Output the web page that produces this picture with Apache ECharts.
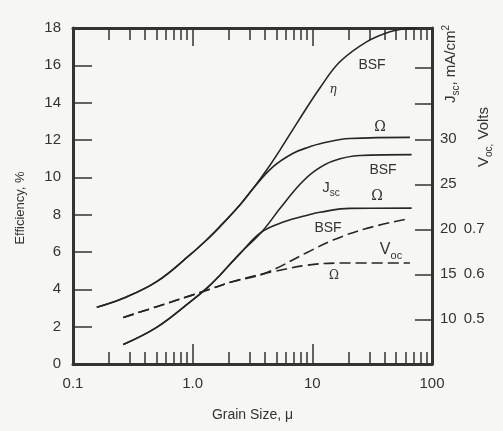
<!DOCTYPE html>
<html><head><meta charset="utf-8">
<script src="https://cdn.jsdelivr.net/npm/echarts@6/dist/echarts.min.js"></script>
<style>html,body{margin:0;padding:0;background:#f6f6f3;}#c{width:503px;height:431px;}</style>
</head><body><div id="c"></div>
<script>
// ---- data ----
// efficiency (%), shared low-grain part then the two branches
var etaLowGrain = [0.158, 0.263, 0.50, 0.948, 1.35, 1.69, 2.48, 3.21];
var etaLow      = [3.04, 3.52, 4.41, 5.84, 6.73, 7.36, 8.52, 9.41];
var etaBSFGrain = [4.15, 5.36, 7.6, 11.6, 17.0, 28.4, 44.5, 61.4, 75];
var etaBSF      = [10.39, 11.46, 13.0, 14.8, 16.19, 17.26, 17.8, 17.97, 18.0];
var etaOhmGrain = [4.71, 6.92, 9.55, 11.6, 20.6, 65.4];
var etaOhm      = [10.57, 11.29, 11.64, 11.8, 12.08, 12.14];

// short-circuit current (mA/cm2)
var jscLowGrain = [0.263, 0.50, 0.948, 1.35, 1.69, 2.48, 3.77];
var jscLow      = [7.2, 9.1, 11.9, 13.6, 14.9, 17.3, 19.7];
var jscBSFGrain = [5.36, 7.88, 10.5, 14.9, 25, 67.6];
var jscBSF      = [22.3, 25.0, 26.5, 27.6, 28.2, 28.3];
var jscOhmGrain = [5.71, 9.55, 11.6, 20.6, 67.6];
var jscOhm      = [20.8, 21.65, 21.9, 22.33, 22.35];

// open-circuit voltage (V)
var vocLowGrain = [0.263, 0.50, 0.948, 1.40, 2.18, 4.0];
var vocLow      = [0.504, 0.528, 0.552, 0.567, 0.584, 0.602];
var vocBSFGrain = [8.96, 14.9, 28.4, 65.4];
var vocBSF      = [0.648, 0.676, 0.702, 0.724];
var vocOhmGrain = [4.71, 8.96, 17.0, 65.4];
var vocOhm      = [0.606, 0.62, 0.625, 0.625];

// ---- axis ticks / labels ----
var xLabelValues = [0.1, 1, 10, 100];
var xLabelTexts  = ['0.1', '1.0', '10', '100'];
var xMinorTicks  = [0.2,0.3,0.4,0.5,0.6,0.7,0.8,0.9, 2,3,4,5,6,7,8,9, 20,30,40,50,60,70,80,90];
var xMajorTicks  = [1, 10];
var jscTickValues = [10, 15, 20, 25, 30, 34, 37.9];
var jscLabelValues = [10, 15, 20, 25, 30];
var vocLabelTexts  = ['0.5', '0.6', '0.7', '', ''];

function pairs(xs, ys){ return xs.map(function(x,i){ return [x, ys[i]]; }); }
function branch(lx, ly, bx, by){ return pairs(lx, ly).concat(pairs(bx, by)); }

var INK = '#262626';
var FONT = 'Liberation Sans';
var frame = {show:true, lineStyle:{color:'#333', width:3}};

function xAx(pos, ticks, len, showLine, labels){
  return {
    type:'log', logBase:10, min:0.1, max:100, position:pos, gridIndex:0,
    axisLine: showLine ? frame : {show:false},
    axisTick:{show:true, inside:true, length:len, customValues:ticks, lineStyle:{color:'#333', width:1.5}},
    axisLabel: labels ? {show:true, customValues:xLabelValues, margin:12, fontSize:15, color:'#333', fontFamily:FONT,
      formatter:function(v){ var i = xLabelValues.indexOf(v); return i>=0 ? xLabelTexts[i] : ''; }} : {show:false},
    splitLine:{show:false}, minorTick:{show:false}
  };
}

var chart = echarts.init(document.getElementById('c'), null, {renderer:'canvas'});
function S(yIdx, data, dashed){
  return {type:'line', smooth:0.4, showSymbol:false, symbol:'none', silent:true, z:3,
    yAxisIndex:yIdx, data:data,
    lineStyle:{color:INK, width:1.6, type: dashed ? [11,5] : 'solid'}};
}

chart.setOption({
  animation:false,
  backgroundColor:'#f6f6f3',
  grid:{left:73, right:71, top:28, bottom:67},
  xAxis:[
    Object.assign(xAx('bottom', xMinorTicks, 12, true, true), {name:'Grain Size, μ', nameLocation:'middle', nameGap:44,
      nameTextStyle:{fontSize:14, color:'#333', fontFamily:FONT}}),
    xAx('bottom', xMajorTicks, 20, false, false),
    xAx('top', xMinorTicks, 12, true, false),
    xAx('top', xMajorTicks, 18, false, false)
  ],
  yAxis:[
    {type:'value', min:0, max:18, interval:2, position:'left',
      axisLine:frame, axisTick:{show:true, inside:true, length:19, lineStyle:{color:'#333', width:1.5}},
      axisLabel:{fontSize:15, color:'#333', margin:12, fontFamily:FONT}, splitLine:{show:false}},
    {type:'value', min:5.03, max:42.37, position:'right',
      axisLine:frame,
      axisTick:{show:true, inside:true, length:17, customValues:jscTickValues, lineStyle:{color:'#333', width:1.5}},
      axisLabel:{customValues:jscLabelValues, margin:8, fontSize:15, color:'#333', fontFamily:FONT,
        formatter:function(v){ var i = jscLabelValues.indexOf(v); var t = '{a|'+v+'}'; if(i>=0 && vocLabelTexts[i]) t += '{b|'+vocLabelTexts[i]+'}'; return t; },
        rich:{a:{fontSize:15, color:'#333', fontFamily:FONT}, b:{fontSize:15, color:'#333', fontFamily:FONT, padding:[0,0,0,7]}}},
      splitLine:{show:false}},
    {type:'value', min:0.4006, max:1.1474, show:false, splitLine:{show:false}}
  ],
  series:[
    S(0, branch(etaLowGrain, etaLow, etaBSFGrain, etaBSF)),
    S(0, branch(etaLowGrain, etaLow, etaOhmGrain, etaOhm)),
    S(1, branch(jscLowGrain, jscLow, jscBSFGrain, jscBSF)),
    S(1, branch(jscLowGrain, jscLow, jscOhmGrain, jscOhm)),
    S(2, branch(vocLowGrain, vocLow, vocBSFGrain, vocBSF), true),
    S(2, branch(vocLowGrain, vocLow, vocOhmGrain, vocOhm), true)
  ],
  graphic:[
    {type:'text', x:20, y:208, rotation:Math.PI/2, style:{text:'Efficiency, %', font:'13px '+FONT, fill:'#333', align:'center', verticalAlign:'middle'}},
    {type:'text', x:451, y:64, rotation:Math.PI/2, style:{text:'{j|J}{s|sc}{n|, mA/cm}{p|2}', align:'center', verticalAlign:'middle',
      rich:{j:{font:'15px '+FONT, fill:'#333', lineHeight:20}, s:{font:'10px '+FONT, fill:'#333', verticalAlign:'bottom', lineHeight:20},
            n:{font:'15px '+FONT, fill:'#333', lineHeight:20}, p:{font:'10px '+FONT, fill:'#333', verticalAlign:'top', lineHeight:20}}}},
    {type:'text', x:484, y:137, rotation:Math.PI/2, style:{text:'{v|V}{s|oc,}{n| Volts}', align:'center', verticalAlign:'middle',
      rich:{v:{font:'15px '+FONT, fill:'#333', lineHeight:20}, s:{font:'10px '+FONT, fill:'#333', verticalAlign:'bottom', lineHeight:20},
            n:{font:'15px '+FONT, fill:'#333', lineHeight:20}}}},
    {type:'text', x:372, y:65, style:{text:'BSF', font:'14px '+FONT, fill:'#333', align:'center', verticalAlign:'middle'}},
    {type:'text', x:333, y:90, style:{text:'η', font:'italic 12px "DejaVu Serif"', fill:'#333', align:'center', verticalAlign:'middle'}},
    {type:'text', x:380, y:127, style:{text:'Ω', font:'14px "DejaVu Serif"', fill:'#333', align:'center', verticalAlign:'middle'}},
    {type:'text', x:383, y:170, style:{text:'BSF', font:'14px '+FONT, fill:'#333', align:'center', verticalAlign:'middle'}},
    {type:'text', x:331, y:188, style:{text:'{j|J}{s|sc}', align:'center', verticalAlign:'middle',
      rich:{j:{font:'15px '+FONT, fill:'#333', lineHeight:20}, s:{font:'10px '+FONT, fill:'#333', verticalAlign:'bottom', lineHeight:20}}}},
    {type:'text', x:377, y:196, style:{text:'Ω', font:'14px "DejaVu Serif"', fill:'#333', align:'center', verticalAlign:'middle'}},
    {type:'text', x:328, y:228, style:{text:'BSF', font:'14px '+FONT, fill:'#333', align:'center', verticalAlign:'middle'}},
    {type:'text', x:391, y:250, style:{text:'{v|V}{s|oc}', align:'center', verticalAlign:'middle',
      rich:{v:{font:'16px '+FONT, fill:'#333', lineHeight:22}, s:{font:'11px '+FONT, fill:'#333', verticalAlign:'bottom', lineHeight:22}}}},
    {type:'text', x:334, y:276, style:{text:'Ω', font:'12px "DejaVu Serif"', fill:'#333', align:'center', verticalAlign:'middle'}}
  ]
});
</script></body></html>
